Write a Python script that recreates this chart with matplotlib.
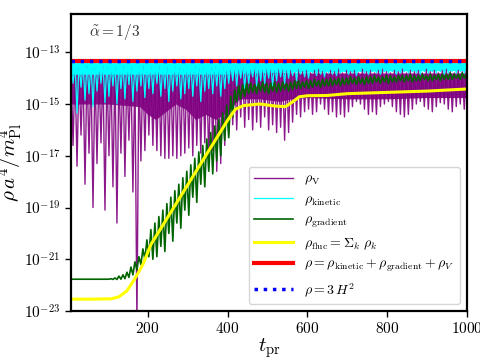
import numpy as np
import matplotlib
matplotlib.use("Agg")
from matplotlib import pyplot as plt

plt.rcParams['mathtext.fontset'] = 'cm'
plt.rcParams['font.family'] = 'serif'
plt.rcParams['font.serif'] = ['cmr10', 'DejaVu Serif']
plt.rcParams['axes.formatter.use_mathtext'] = True

# log10 of the densities
# oscillating curves: maxima at t = 8, 18, ..., 998 and minima in between (13, 23, ..., 993)
t_max = np.arange(8, 999, 10)
t_min = t_max[:-1] + 5

# rho_V (purple)
V_max = [-13.55, -13.65, -13.6, -13.7, -13.55, -13.65, -13.6, -13.7, -13.55, -13.6, -13.65,
         -13.6, -13.7, -13.55, -13.65, -13.6, -13.7, -13.6, -13.55, -13.65, -13.6, -13.7,
         -13.55, -13.65, -13.6, -13.7, -13.55, -13.6, -13.65, -13.6, -13.7, -13.55, -13.65,
         -13.6, -13.7, -13.6, -13.55, -13.65, -13.6, -13.7, -13.6, -13.65, -13.7, -13.6,
         -13.65, -13.7, -13.6, -13.65, -13.7, -13.6, -13.65, -13.7, -13.6, -13.65, -13.7,
         -13.7, -13.8, -13.65, -13.75, -13.7, -13.8, -13.7, -13.65, -13.75, -13.8, -13.7,
         -13.75, -13.65, -13.8, -13.7, -13.75, -13.7, -13.8, -13.65, -13.75, -13.7, -13.8,
         -13.7, -13.65, -13.75, -13.8, -13.7, -13.75, -13.65, -13.8, -13.7, -13.75, -13.7,
         -13.8, -13.65, -13.75, -13.7, -13.8, -13.7, -13.65, -13.75, -13.8, -13.7, -13.75, -13.7]
V_min = [-16.6, -17.4, -16.2, -18.1, -16.9, -19.0, -17.3, -16.5, -19.1, -17.0,
         -18.2, -19.6, -16.9, -17.8, -16.4, -18.4, -23.5, -17.2, -16.8, -16.2,
         -16.6, -16.8, -17.0, -17.1, -17.1, -17.0, -17.1, -17.0, -16.9, -16.7,
         -17.0, -16.6, -16.9, -16.5, -17.2, -16.8, -17.6, -17.3, -16.6, -16.2,
         -15.8, -16.0, -15.5, -15.9, -15.6, -16.0, -15.7, -15.9, -15.5, -16.0,
         -15.8, -16.1, -15.9, -16.4, -16.1,
         -15.7, -15.4, -15.5, -15.3, -15.2, -15.4, -15.3, -15.0, -15.2, -15.4,
         -15.3, -15.5, -15.4, -15.5, -15.3, -15.1, -14.9, -15.0, -15.2, -15.4,
         -15.3, -15.4, -15.1, -15.0, -14.9, -15.1, -15.3, -15.4, -15.5, -15.4,
         -15.2, -15.0, -14.9, -15.1, -15.2, -15.3, -15.1, -14.95, -15.0, -15.2,
         -15.3, -15.1, -15.0, -15.2]
# dense part of the rho_V band
t_Vband = [8, 100, 180, 200, 220, 245, 270, 295, 320, 345, 370, 400, 430, 480, 530, 560, 600, 700, 800, 900, 1000]
V_band_hi = [-13.7, -13.7, -13.7, -13.7, -13.7, -13.7, -13.7, -13.7, -13.7, -13.7, -13.7,
             -13.7, -13.75, -13.75, -13.75, -13.8, -13.8, -13.8, -13.8, -13.8, -13.8]
V_band_lo = [-15.0, -15.0, -15.1, -15.4, -15.6, -15.3, -15.0, -15.2, -15.6, -15.4, -15.6,
             -15.3, -14.8, -14.8, -14.9, -14.8, -14.75, -14.8, -14.8, -14.75, -14.75]

# rho_kinetic (cyan)
K_max = [-13.42, -13.45, -13.42, -13.44, -13.42, -13.45, -13.43, -13.42, -13.45, -13.42] * 10
K_min = [-14.2, -15.35, -14.35, -14.85, -14.6, -15.1, -14.5, -14.2, -14.95, -14.7,
         -14.3, -15.0, -14.4, -14.8, -14.25, -14.9, -14.5, -14.3, -14.75, -14.4,
         -14.6, -14.2,
         -14.7, -14.4, -14.9, -14.5, -14.3, -14.8, -14.6, -14.4, -14.7, -14.3,
         -14.9, -14.5, -14.4, -14.6, -14.3, -14.7, -14.4, -14.2,
         -14.1, -14.3, -14.0, -14.4, -14.2, -13.95, -14.3, -14.1, -14.2, -14.0,
         -14.3, -14.1, -13.95, -14.2, -14.0,
         -13.9, -14.1, -13.85, -13.95, -14.0, -13.8, -13.9, -13.85, -13.95, -13.8,
         -13.85, -13.9, -13.8, -13.75, -13.85, -13.8, -13.9, -13.75, -13.8, -13.85,
         -13.75, -13.8, -13.85, -13.75, -13.8, -13.75, -13.85, -13.8, -13.75, -13.8,
         -13.75, -13.8, -13.85, -13.75, -13.8, -13.75, -13.8, -13.75, -13.85, -13.8,
         -13.75, -13.8, -13.75, -13.8]
t_Kband = [8, 400, 560, 1000]
K_band_hi = [-13.4, -13.4, -13.4, -13.4]
K_band_lo = [-13.85, -13.85, -13.75, -13.7]

# rho_gradient (dark green)
G_max = [-21.77] * 10 + \
        [-21.75, -21.72, -21.65, -21.6, -21.5, -21.3, -21.1, -20.9, -20.6, -20.25,
         -19.85, -19.6, -19.35, -19.1, -18.85, -18.6, -18.35, -18.1, -17.85, -17.6,
         -17.35, -17.1, -16.85, -16.6, -16.35, -16.1, -15.85, -15.6, -15.35, -15.05,
         -14.7, -14.45, -14.3, -14.25, -14.2, -14.2, -14.25, -14.2, -14.15, -14.2,
         -14.2, -14.15, -14.2, -14.15, -14.2, -14.15, -14.1, -14.1, -14.15, -14.1,
         -14.1, -14.05, -14.1, -14.05, -14.05, -14.0, -14.05, -14.0, -14.0, -14.0,
         -13.95, -14.0, -13.95, -14.0, -13.95, -13.95, -13.9, -13.95, -13.95, -13.9,
         -13.9, -13.95, -13.9, -13.9, -13.9, -13.85, -13.9, -13.9, -13.85, -13.9,
         -13.85, -13.9, -13.85, -13.85, -13.85, -13.8, -13.85, -13.85, -13.8, -13.85]
G_min = [-21.77] * 10 + \
        [-21.78, -21.78, -21.77, -21.75, -21.7, -21.6, -21.4, -21.2, -21.0, -20.9, -21.0,
         -20.9, -20.5, -20.7, -20.0, -20.3, -19.6, -19.8, -19.1, -19.3, -18.6,
         -18.8, -18.1, -18.2, -17.6, -17.7, -17.2, -17.0, -16.4, -16.3, -15.5, -14.9,
         -14.8, -14.7, -14.6,
         -14.55, -14.6, -14.5, -14.55, -14.6, -14.5, -14.55, -14.5, -14.45, -14.5,
         -14.45, -14.4, -14.4, -14.35, -14.4, -14.35, -14.3, -14.35, -14.3, -14.3,
         -14.3, -14.25, -14.3, -14.25, -14.25, -14.2, -14.25, -14.2, -14.25, -14.2,
         -14.2, -14.15, -14.2, -14.15, -14.2, -14.15, -14.15, -14.1, -14.15, -14.1,
         -14.15, -14.1, -14.1, -14.05, -14.1, -14.1, -14.05, -14.1, -14.05, -14.05,
         -14.05, -14.0, -14.05, -14.0]

# rho_fluc (yellow)
t_fluc = [8, 60, 108, 128, 148, 168, 188, 208, 250, 300, 350, 400, 420, 440, 480, 520, 545,
          560, 580, 600, 650, 700, 800, 900, 1000]
fluc = [-22.54, -22.54, -22.53, -22.45, -22.22, -21.75, -21.2, -20.43, -19.38, -18.13, -16.88,
        -15.63, -15.2, -15.06, -15.0, -15.08, -15.1, -14.95, -14.72, -14.68, -14.67, -14.6,
        -14.55, -14.5, -14.42]

# total rho and 3 H^2
t_tot = [8, 250, 500, 750, 1000]
tot = [-13.35, -13.35, -13.35, -13.35, -13.35]
H2 = [-13.35, -13.35, -13.35, -13.35, -13.35]


def zigzag(hi, lo):
    t = np.empty(len(t_max) + len(t_min))
    v = np.empty(len(t_max) + len(t_min))
    t[0::2], t[1::2] = t_max, t_min
    v[0::2], v[1::2] = hi, lo
    return t, 10.0 ** v


fig = plt.figure(figsize=(4.8, 3.6), dpi=100)
ax = fig.add_axes([0.148, 0.136, 0.825, 0.825])

ax.fill_between(t_Vband, 10.0 ** np.array(V_band_lo), 10.0 ** np.array(V_band_hi),
                color='purple', lw=0, alpha=0.9)
tv, vv = zigzag(V_max, V_min)
ax.plot(tv, vv, color='purple', lw=1.0, alpha=0.9, label=r'$\rho_{\rm V}$')

ax.fill_between(t_Kband, 10.0 ** np.array(K_band_lo), 10.0 ** np.array(K_band_hi),
                color='cyan', lw=0)
tk, vk = zigzag(K_max, K_min)
ax.plot(tk, vk, color='cyan', lw=0.9, label=r'$\rho_{\rm kinetic}$')

tg, vg = zigzag(G_max, G_min)
ax.plot(tg, vg, color='darkgreen', lw=1.2, label=r'$\rho_{\rm gradient}$')

ax.plot(t_fluc, 10.0 ** np.array(fluc), color='yellow', lw=2.2,
        label=r'$\rho_{\rm fluc} = \Sigma_k\ \rho_k$')
ax.plot(t_tot, 10.0 ** np.array(tot), color='red', lw=3,
        label=r'$\rho = \rho_{\rm kinetic} + \rho_{\rm gradient} + \rho_V$')
ax.plot(t_tot, 10.0 ** np.array(H2), color='blue', lw=2.5, ls=':',
        label=r'$\rho = 3\,H^2$')

ax.set_yscale('log')
ax.set_xlim(8, 1000)
ax.set_ylim(1e-23, 3e-12)
ax.set_xticks([200, 400, 600, 800, 1000])
ax.set_yticks([1e-23, 1e-21, 1e-19, 1e-17, 1e-15, 1e-13])
ax.yaxis.set_minor_locator(matplotlib.ticker.NullLocator())
ax.tick_params(labelsize=11, length=4, width=1)
for s in ax.spines.values():
    s.set_linewidth(1.6)

ax.set_xlabel(r'$t_{\rm pr}$', fontsize=15, labelpad=0)
ax.set_ylabel(r'$\rho\, a^4/m_{\rm Pl}^4$', fontsize=15)
ax.yaxis.set_label_coords(-0.115, 0.5)
ax.text(0.045, 0.94, r'$\tilde{\alpha} = 1/3$', transform=ax.transAxes,
        fontsize=11, va='center', color='#333333')

ax.legend(loc='lower right', fontsize=10, handlelength=2.8, labelspacing=0.45,
          borderaxespad=0.5)

plt.savefig('out.png', dpi=100)
